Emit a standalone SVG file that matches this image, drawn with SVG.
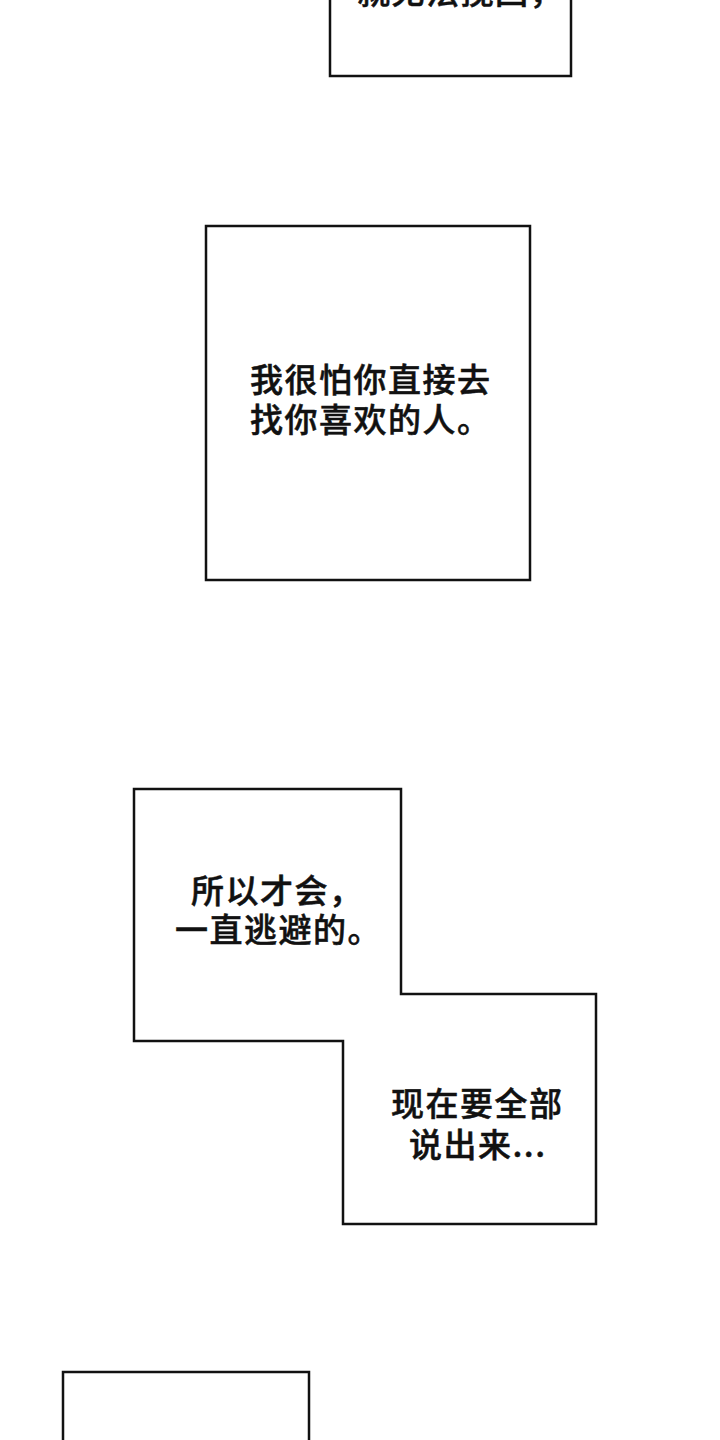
<svg xmlns="http://www.w3.org/2000/svg" width="720" height="1440" viewBox="0 0 720 1440">
<style>
.box{fill:#fff;stroke:#111;stroke-width:2.5}
.t{font-family:"Noto Sans CJK SC","Noto Sans",sans-serif;font-size:33px;font-weight:500;fill:#111;stroke:#111;stroke-width:0.5;letter-spacing:1.5px}
</style>
<rect width="720" height="1440" fill="#fff"/>
<g id="box1">
<rect class="box" x="330" y="-20" width="241" height="96"/>
<text class="t" x="357" y="4">就无法挽回，</text>
</g>
<g id="box2">
<rect class="box" x="206" y="226" width="324" height="354"/>
<text class="t" x="250" y="392">我很怕你直接去<tspan x="250" dy="40">找你喜欢的人。</tspan></text>
</g>
<g id="box3">
<path class="box" d="M134,789 H401 V994 H596 V1224 H343 V1041 H134 Z"/>
<text class="t" x="191" y="903">所以才会，<tspan x="175" dy="39">一直逃避的。</tspan></text>
<text class="t" x="391" y="1116">现在要全部<tspan x="409" dy="41">说出来...</tspan></text>
</g>
<g id="box4">
<rect class="box" x="63" y="1372" width="246" height="90"/>
</g>
<g id="connectors"></g>
</svg>
